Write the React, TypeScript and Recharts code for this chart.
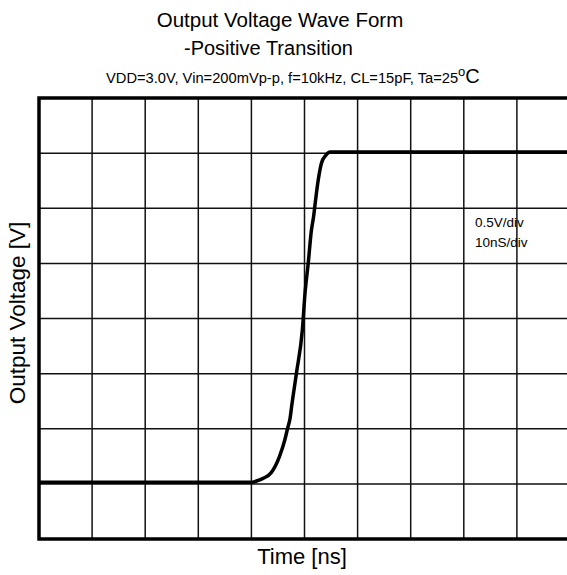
import React from 'react';
import {
  ComposedChart,
  Line,
  XAxis,
  YAxis,
  CartesianGrid,
  ReferenceArea
} from 'recharts';

// time axis: 10ns/div, voltage axis: 0.5V/div
const timeNs = [0, 20, 40.3, 40.6, 42.2, 43.7, 45.3, 46.3, 46.8, 47.3, 47.6, 48.5, 49.6, 50.1, 50.7, 51.3, 51.7, 52.0, 52.6, 53.2, 54.0, 54.8, 70, 100];
const voltage = [0.015, 0.015, 0.015, 0.02, 0.05, 0.1, 0.25, 0.4, 0.5, 0.6, 0.71, 1.01, 1.4, 1.73, 2.0, 2.3, 2.42, 2.54, 2.76, 2.91, 2.98, 3.01, 3.01, 3.01];

const xTicks = [0, 10, 20, 30, 40, 50, 60, 70, 80, 90, 100];
const yTicks = [-0.5, 0, 0.5, 1.0, 1.5, 2.0, 2.5, 3.0, 3.5];

const titleLines = ['Output Voltage Wave Form', '-Positive Transition'];
const conditions = 'VDD=3.0V, Vin=200mVp-p, f=10kHz, CL=15pF, Ta=25';
const scaleNotes = ['0.5V/div', '10nS/div'];

const data = timeNs.map((t, i) => ({ t, v: voltage[i] }));

const font = '"Liberation Sans", Arial, sans-serif';

// ticks exist only to feed the grid, so they draw nothing
const noTick = () => <g />;

export default function App() {
  return (
    <div style={{ position: 'absolute', left: 0, top: 0, width: 567, height: 575, overflow: 'hidden', background: '#fff' }}>
      <ComposedChart
        width={570}
        height={575}
        data={data}
        margin={{ top: 98, right: 0, left: 0, bottom: 0 }}
        style={{ fontFamily: font }}
      >
        <CartesianGrid stroke="#111" strokeWidth={1.5} />
        <XAxis
          dataKey="t"
          type="number"
          domain={[0, 100]}
          ticks={xTicks}
          interval={0}
          tick={noTick}
          tickLine={false}
          axisLine={false}
          height={36}
        />
        <YAxis
          type="number"
          domain={[-0.5, 3.5]}
          ticks={yTicks}
          interval={0}
          tick={noTick}
          tickLine={false}
          axisLine={false}
          width={39}
        />
        <ReferenceArea
          x1={0}
          x2={100}
          y1={-0.5}
          y2={3.5}
          fill="none"
          stroke="#000"
          strokeWidth={3.5}
          ifOverflow="visible"
        />
        <Line
          type="monotone"
          dataKey="v"
          stroke="#000"
          strokeWidth={3.5}
          dot={false}
          activeDot={false}
          isAnimationActive={false}
        />
        <text x={280} y={27} textAnchor="middle" fontSize={20.5} fill="#000" fontFamily={font}>
          {titleLines[0]}
        </text>
        <text x={184} y={55} fontSize={20} fill="#000" fontFamily={font}>
          {titleLines[1]}
        </text>
        <text x={106} y={83} fontSize={14.7} fill="#000" fontFamily={font}>
          {conditions}
          <tspan fontSize={13} dy={-7}>o</tspan>
          <tspan fontSize={20} dy={7}>C</tspan>
        </text>
        <text x={475} y={227} fontSize={13.5} fill="#000" fontFamily={font}>
          {scaleNotes[0]}
        </text>
        <text x={475} y={247} fontSize={13.5} fill="#000" fontFamily={font}>
          {scaleNotes[1]}
        </text>
        <text x={302} y={564} textAnchor="middle" fontSize={22} fill="#000" fontFamily={font}>
          Time [ns]
        </text>
        <text
          x={25}
          y={313}
          textAnchor="middle"
          fontSize={22.5}
          fill="#000"
          fontFamily={font}
          transform="rotate(-90 25 313)"
        >
          Output Voltage [V]
        </text>
      </ComposedChart>
    </div>
  );
}
